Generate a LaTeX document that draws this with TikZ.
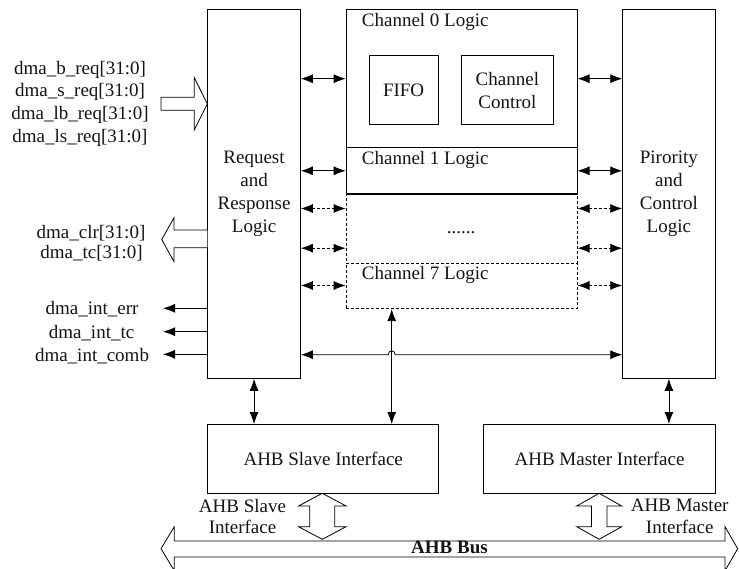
\documentclass[tikz,border=0pt]{standalone}
\usepackage{fontspec}
\setmainfont{Liberation Serif}
\usetikzlibrary{arrows.meta,calc}

\begin{document}
\begin{tikzpicture}[x=1pt,y=-1pt,
  >={Latex[length=12pt,width=9pt]},
  every node/.style={font=\fontsize{19}{23}\selectfont, text=black!92},
  box/.style={draw, line width=0.8pt, inner sep=0pt, anchor=north west, align=center},
  dashbox/.style={box, dash pattern=on 3pt off 2pt},
  lbl/.style={inner sep=0pt, anchor=base},
  dbl/.style={<->, line width=0.8pt},
  dbldash/.style={dbl, dash pattern=on 3pt off 2pt},
  outarrow/.style={->, line width=0.8pt},
  hollow/.style={draw, line width=0.8pt, fill=white, line join=miter},
]
\useasboundingbox (0,0) rectangle (739,569);

% ---------------- main blocks ----------------
\node[box, minimum width=92.7pt, minimum height=368.7pt] (req) at (207.3,9.3)
  {Request\\and\\Response\\Logic};
\node[box, minimum width=92.4pt, minimum height=368.7pt] (pri) at (622.3,9.3)
  {Pirority\\and\\Control\\Logic};

\node[box, minimum width=231pt, minimum height=137.7pt] (ch0) at (345.7,9.3) {};
\node[box, minimum width=231pt, minimum height=46.5pt] (ch1) at (345.7,147) {};
\node[dashbox, minimum width=231pt, minimum height=69.2pt] (chdots) at (345.7,193.5) {};
\node[dashbox, minimum width=231pt, minimum height=45.6pt] (ch7) at (345.7,262.7) {};
\draw[line width=0.8pt] (ch1.south west) -- (ch1.south east);

\node[lbl, anchor=base west] (ch0t) at (361.7,26.7) {Channel 0 Logic};
\node[lbl, anchor=base west] (ch1t) at (361.7,164.2) {Channel 1 Logic};
\node[lbl, anchor=base west] (ch7t) at (361.7,279.6) {Channel 7 Logic};
\node[lbl] (dots) at (461.2,233.3) {......};

\node[box, minimum width=69pt, minimum height=69pt] (fifo) at (368.7,55.3) {FIFO};
\node[box, minimum width=92.6pt, minimum height=69pt] (cc) at (460.7,55.3) {Channel\\Control};

\node[box, minimum width=231pt, minimum height=68.7pt] (slave) at (207.3,424) {AHB Slave Interface};
\node[box, minimum width=231.7pt, minimum height=68.7pt] (master) at (483.3,424) {AHB Master Interface};

% ---------------- channel <-> logic links ----------------
\coordinate (r0) at (0,78.7);
\coordinate (r1) at (0,170.8);
\coordinate (r2) at (0,208.5);
\coordinate (r3) at (0,248.2);
\coordinate (r7) at (0,285.5);
\coordinate (rh) at (0,354.7);
\coordinate (vx) at (391.7,0);

\draw[dbl] (req.east |- r0) -- (ch0.west |- r0);
\draw[dbl] (ch0.east |- r0) -- (pri.west |- r0);
\draw[dbl] (req.east |- r1) -- (ch1.west |- r1);
\draw[dbl] (ch1.east |- r1) -- (pri.west |- r1);
\draw[dbldash] (req.east |- r2) -- (chdots.west |- r2);
\draw[dbldash] (chdots.east |- r2) -- (pri.west |- r2);
\draw[dbldash] (req.east |- r3) -- (chdots.west |- r3);
\draw[dbldash] (chdots.east |- r3) -- (pri.west |- r3);
\draw[dbldash] (req.east |- r7) -- (ch7.west |- r7);
\draw[dbldash] (ch7.east |- r7) -- (pri.west |- r7);

% request logic <-> priority logic, hopping over the vertical link
\draw[dbl] (req.east |- rh) -- ($(vx |- rh)+(-3.5,0)$)
  .. controls +(0,-5) and +(0,-5) .. ($(vx |- rh)+(3.5,0)$) -- (pri.west |- rh);

% vertical links to the AHB interfaces
\draw[dbl] (vx |- ch7.south) -- (vx |- slave.north);
\draw[dbl] (req.south) -- (req.south |- slave.north);
\draw[dbl] (pri.south) -- (pri.south |- master.north);

% ---------------- request inputs ----------------
\coordinate (inrow) at (0,103.8);
\node[lbl] (in1) at (80,74.3) {dma\_b\_req[31:0]};
\node[lbl] (in2) at (80,96.9) {dma\_s\_req[31:0]};
\node[lbl] (in3) at (80,119.5) {dma\_lb\_req[31:0]};
\node[lbl] (in4) at (80,142.1) {dma\_ls\_req[31:0]};
\draw[hollow] (161,97.3) -- (194.3,97.3) -- (194.3,77.7) -- (req.west |- inrow)
  -- (194.3,130) -- (194.3,110.3) -- (161,110.3) -- cycle;

% ---------------- response outputs ----------------
\coordinate (outtop) at (0,230);
\coordinate (outbot) at (0,247.7);
\node[lbl] (out1) at (91,238.2) {dma\_clr[31:0]};
\node[lbl] (out2) at (91.5,258.2) {dma\_tc[31:0]};
\draw[hollow] (req.west |- outtop) -- (174,230) -- (174,217.7) -- (161.7,239.5)
  -- (174,261.7) -- (174,247.7) -- (req.west |- outbot);

% ---------------- interrupt outputs ----------------
\coordinate (o1) at (163,308.3);
\coordinate (o2) at (163,331.7);
\coordinate (o3) at (163,354.3);
\draw[outarrow] (req.west |- o1) -- (o1);
\draw[outarrow] (req.west |- o2) -- (o2);
\draw[outarrow] (req.west |- o3) -- (o3);
\node[lbl] (int1) at (92,314.8) {dma\_int\_err};
\node[lbl] (int2) at (91.5,338.2) {dma\_int\_tc};
\node[lbl] (int3) at (92,361.5) {dma\_int\_comb};

% ---------------- AHB bus ----------------
\draw[hollow] (161,548.7) -- (174.3,526.7) -- (174.3,541) -- (725,541) -- (725,526.7)
  -- (737.7,548.7) -- (725,570.7) -- (725,557) -- (174.3,557) -- (174.3,570.7) -- cycle;
\node[lbl, font=\fontsize{19}{23}\selectfont\bfseries] (bus) at (449.5,553.5) {AHB Bus};

\draw[hollow, shift={(322.3,493.3)}] (0,0) -- (23.8,12.7) -- (12.5,12.7) -- (12.5,33.4)
  -- (23.8,33.4) -- (0,46) -- (-23.8,33.4) -- (-12.5,33.4) -- (-12.5,12.7) -- (-23.8,12.7) -- cycle;
\draw[hollow, shift={(599.2,493.3)}] (0,0) -- (22.5,12.7) -- (7.8,12.7) -- (7.8,33.4)
  -- (22.5,33.4) -- (0,46) -- (-22.5,33.4) -- (-7.8,33.4) -- (-7.8,12.7) -- (-22.5,12.7) -- cycle;

\node[inner sep=0pt, align=center, anchor=north, font=\fontsize{19}{21.7}\selectfont]
  (slavelbl) at (242.5,498.7) {AHB Slave\\Interface};
\node[inner sep=0pt, align=center, anchor=north, font=\fontsize{19}{21.7}\selectfont]
  (masterlbl) at (679.7,498.7) {AHB Master\\Interface};
\end{tikzpicture}
\end{document}
